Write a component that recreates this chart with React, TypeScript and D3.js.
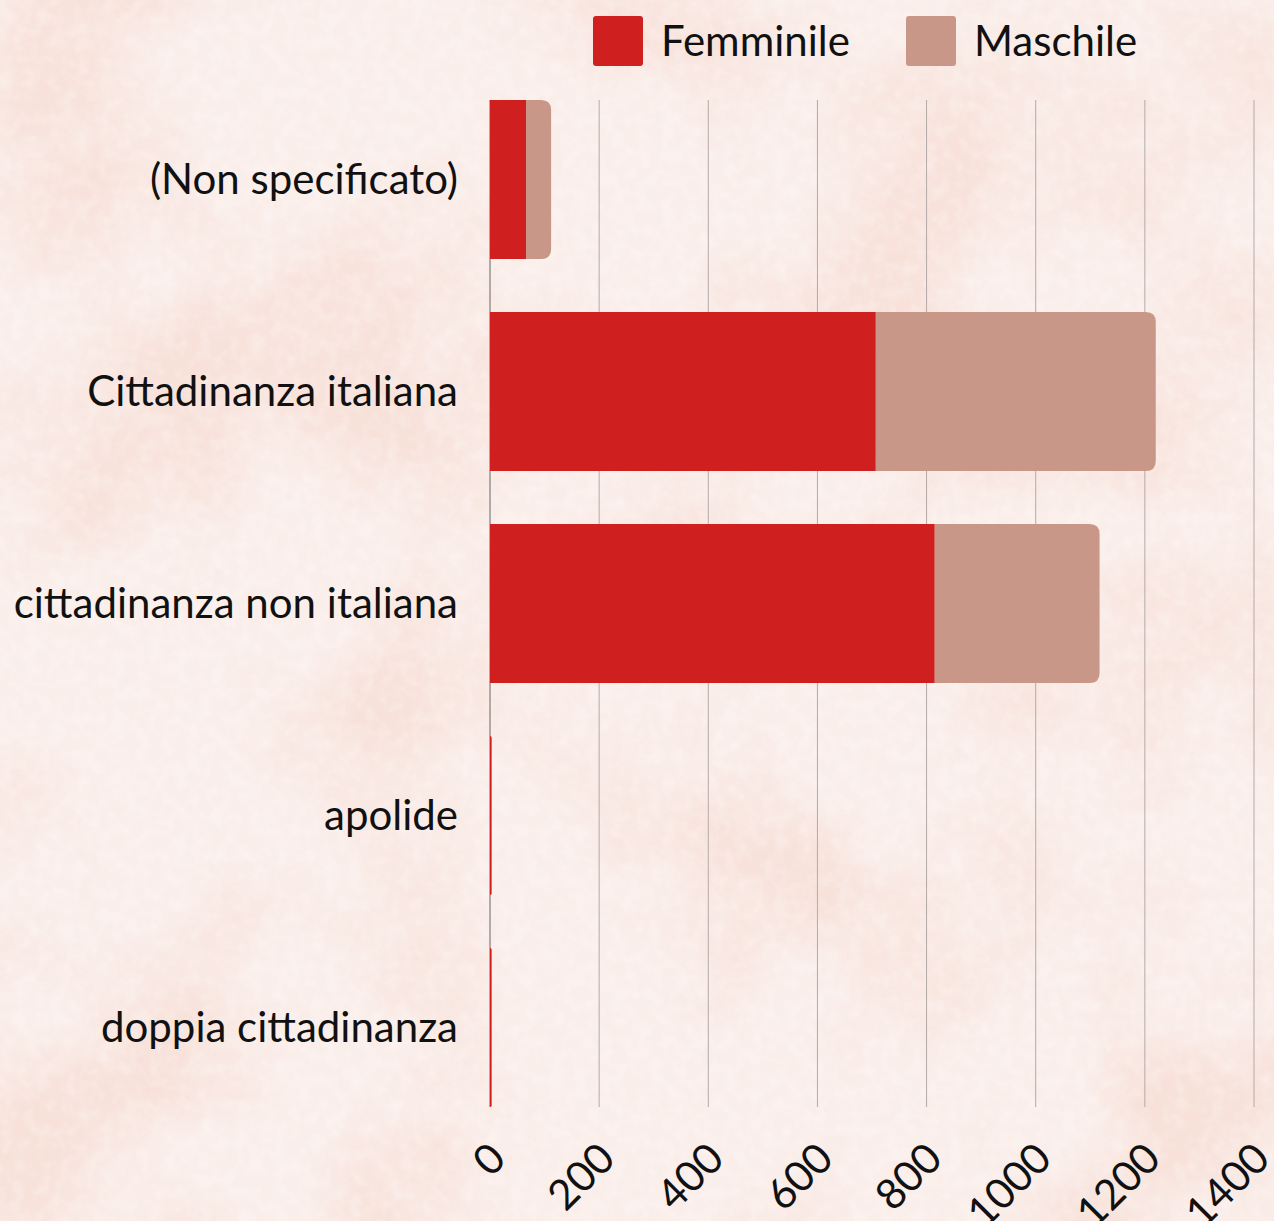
import { useEffect, useRef } from 'react';
import * as d3 from 'd3';

const categories = [
  '(Non specificato)',
  'Cittadinanza italiana',
  'cittadinanza non italiana',
  'apolide',
  'doppia cittadinanza',
];
const femminile = [66, 707, 815, 3, 3];
const maschile = [46, 513, 302, 0, 0];
const seriesNames = ['Femminile', 'Maschile'];
const seriesColors = ['#d01f1f', '#c99788'];
const xTicks = [0, 200, 400, 600, 800, 1000, 1200, 1400];

const W = 1274;
const H = 1221;
const FONT = 'Lato, "Noto Sans", sans-serif';

// path for a bar with only the right corners rounded
function barPath(x0: number, x1: number, y0: number, h: number, r: number) {
  const rr = Math.max(0, Math.min(r, x1 - x0, h / 2));
  return `M${x0},${y0}H${x1 - rr}Q${x1},${y0} ${x1},${y0 + rr}V${y0 + h - rr}Q${x1},${y0 + h} ${x1 - rr},${y0 + h}H${x0}Z`;
}

export default function App() {
  const ref = useRef<SVGSVGElement>(null);

  useEffect(() => {
    const svg = d3.select(ref.current);
    svg.selectAll('*').remove();

    // background paper texture
    const defs = svg.append('defs');
    const f = defs.append('filter').attr('id', 'blotch')
      .attr('x', 0).attr('y', 0).attr('width', '100%').attr('height', '100%');
    f.append('feTurbulence').attr('type', 'fractalNoise')
      .attr('baseFrequency', 0.004).attr('numOctaves', 5).attr('seed', 11);
    f.append('feColorMatrix').attr('type', 'matrix')
      .attr('values', '0 0 0 0 0.93  0 0 0 0 0.72  0 0 0 0 0.66  3.2 0 0 0 -1.45');
    const g2 = defs.append('filter').attr('id', 'grain')
      .attr('x', 0).attr('y', 0).attr('width', '100%').attr('height', '100%');
    g2.append('feTurbulence').attr('type', 'fractalNoise')
      .attr('baseFrequency', 0.08).attr('numOctaves', 2).attr('seed', 3);
    g2.append('feColorMatrix').attr('type', 'matrix')
      .attr('values', '0 0 0 0 1  0 0 0 0 1  0 0 0 0 1  1.4 0 0 0 -0.55');

    svg.append('rect').attr('width', W).attr('height', H).attr('fill', '#faeeea');
    svg.append('rect').attr('width', W).attr('height', H).attr('filter', 'url(#blotch)').attr('opacity', 0.75);
    svg.append('rect').attr('width', W).attr('height', H).attr('filter', 'url(#grain)').attr('opacity', 0.4);

    const x = d3.scaleLinear().domain([0, 1400]).range([490, 1254]);
    const y = d3.scaleBand<string>().domain(categories).range([100, 1107])
      .paddingInner(0.25).paddingOuter(0);

    // grid
    svg.append('g').selectAll('line').data(xTicks.slice(1)).join('line')
      .attr('x1', d => x(d)).attr('x2', d => x(d))
      .attr('y1', 100).attr('y2', 1107)
      .attr('stroke', '#b3aaa8').attr('stroke-width', 1);
    svg.append('line')
      .attr('x1', x(0)).attr('x2', x(0)).attr('y1', 100).attr('y2', 1107)
      .attr('stroke', '#666').attr('stroke-width', 1);

    // stacked bars
    const rows = categories.map((c, i) => ({ cat: c, Femminile: femminile[i], Maschile: maschile[i] }));
    const stack = d3.stack<any>().keys(seriesNames)(rows);
    const bars = svg.append('g');
    stack.forEach((layer, li) => {
      layer.forEach((seg, i) => {
        const v = seg[1] - seg[0];
        if (v <= 0) return;
        const isTop = stack.slice(li + 1).every(l => l[i][1] - l[i][0] <= 0);
        const x0 = x(seg[0]);
        const x1 = x(seg[1]);
        bars.append('path')
          .attr('d', barPath(x0, x1, y(rows[i].cat)!, y.bandwidth(), isTop ? 10 : 0))
          .attr('fill', seriesColors[li]);
      });
    });

    // category labels
    svg.append('g').selectAll('text').data(categories).join('text')
      .attr('x', 458).attr('y', d => y(d)! + y.bandwidth() / 2)
      .attr('dy', '0.35em').attr('text-anchor', 'end')
      .attr('font-family', FONT).attr('font-size', 42).attr('fill', '#111')
      .text(d => d);

    // tick labels
    svg.append('g').selectAll('text').data(xTicks).join('text')
      .attr('transform', d => `translate(${x(d) + 18},1161) rotate(-45)`)
      .attr('text-anchor', 'end')
      .attr('font-family', FONT).attr('font-size', 42).attr('fill', '#111')
      .text(d => String(d));

    // legend
    const legendX = [593, 906];
    const lg = svg.append('g');
    seriesNames.forEach((name, i) => {
      lg.append('rect').attr('x', legendX[i]).attr('y', 16).attr('width', 50).attr('height', 50)
        .attr('rx', 3).attr('fill', seriesColors[i]);
      lg.append('text').attr('x', legendX[i] + 68).attr('y', 56)
        .attr('font-family', FONT).attr('font-size', 42).attr('fill', '#111')
        .text(name);
    });
  }, []);

  return (
    <div style={{ position: 'absolute', left: 0, top: 0 }}>
      <svg ref={ref} width={W} height={H} style={{ display: 'block' }} />
    </div>
  );
}
